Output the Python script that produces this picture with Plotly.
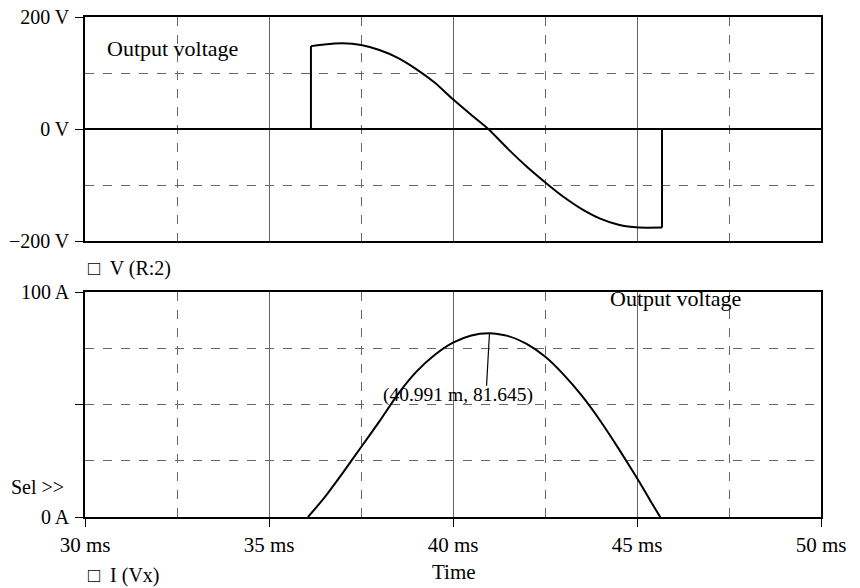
import plotly.graph_objects as go

# time axis (ms)
x_ticks = [30, 35, 40, 45, 50]
x_ticktext = ["30 ms", "35 ms", "40 ms", "45 ms", "50 ms"]
x_minor = [32.5, 37.5, 42.5, 47.5]

# output voltage V(R:2): switched on at 36.14 ms, off at 45.68 ms
v_time = [36.14, 36.5, 37.0, 37.5, 38.0, 38.5, 39.0, 39.5, 40.0, 40.5, 40.96,
          41.5, 42.0, 42.5, 43.0, 43.5, 44.0, 44.5, 45.05, 45.68]
v_volt = [148, 151, 153, 150, 141, 127, 107, 83, 53, 25, 0,
          -36, -67, -95, -121, -143, -160, -171, -176, -176]

# load current I(Vx)
i_time = [36.06, 36.5, 37.0, 37.5, 38.0, 38.5, 39.0, 39.5, 40.0, 40.5, 40.991,
          41.5, 42.0, 42.5, 43.0, 43.5, 44.0, 44.5, 45.0, 45.35, 45.63]
i_amp = [0, 8.5, 19.5, 31, 42.5, 54.5, 64.5, 72, 77.5, 80.7, 81.645,
         80.4, 76.9, 71.3, 63.4, 53.9, 42.8, 30.4, 17.3, 7.6, 0]

peak_t = 40.991
peak_i = 81.645

FONT = "Liberation Serif"
GRID = "#666666"

fig = go.Figure()
# voltage waveform (smooth part) plus its switching edges
fig.add_trace(go.Scatter(x=v_time, y=v_volt, mode="lines", xaxis="x2", yaxis="y",
                         line=dict(color="black", width=2, shape="spline", smoothing=0.6),
                         showlegend=False))
fig.add_trace(go.Scatter(x=[v_time[0], v_time[0], None, v_time[-1], v_time[-1]],
                         y=[0, v_volt[0], None, v_volt[-1], 0], mode="lines",
                         xaxis="x2", yaxis="y", line=dict(color="black", width=2),
                         showlegend=False))
fig.add_trace(go.Scatter(x=i_time, y=i_amp, mode="lines", xaxis="x", yaxis="y2",
                         line=dict(color="black", width=2, shape="spline", smoothing=0.6),
                         showlegend=False))

xcommon = dict(range=[30, 50], showline=True, mirror=True, linecolor="black", linewidth=1.5,
               showgrid=True, gridcolor=GRID, gridwidth=1, zeroline=False, automargin=False,
               ticklabeloverflow="allow",
               minor=dict(tickmode="array", tickvals=x_minor, showgrid=True,
                          gridcolor=GRID, griddash="dash", ticks=""))
ycommon = dict(automargin=False, ticklabeloverflow="allow", ticks="outside", ticklen=8,
               tickcolor="black", ticklabelstandoff=2, tickfont=dict(size=20),
               showline=True, mirror=True, linecolor="black", linewidth=1.5)

# page body adds an 8px margin, so the figure is drawn 8px smaller
fig.update_layout(
    width=852, height=580,
    margin=dict(l=77, r=39, t=9, b=71),
    plot_bgcolor="white", paper_bgcolor="white",
    font=dict(family=FONT, size=20, color="black"),
    xaxis=dict(**xcommon, anchor="y2", tickvals=x_ticks, ticktext=x_ticktext,
               ticks="outside", ticklen=8, tickcolor="black", tickfont=dict(size=21)),
    xaxis2=dict(**xcommon, anchor="y", matches="x", showticklabels=False, ticks=""),
    yaxis=dict(**ycommon, domain=[0.552, 1], anchor="x2", range=[-200, 200],
               tickvals=[-200, 0, 200], ticktext=["\u2212200 V", "0 V", "200 V"],
               showgrid=False, zeroline=True, zerolinecolor="black", zerolinewidth=1.5,
               minor=dict(tickmode="array", tickvals=[-100, 100], showgrid=True,
                          gridcolor=GRID, griddash="dash", ticks="")),
    yaxis2=dict(**ycommon, domain=[0, 0.45], anchor="x", range=[0, 100],
                tickvals=[0, 50, 100], ticktext=["0 A", "", "100 A"],
                showgrid=True, gridcolor=GRID, griddash="dash", zeroline=False,
                minor=dict(tickmode="array", tickvals=[25, 75], showgrid=True,
                           gridcolor=GRID, griddash="dash", ticks="")),
)

ann = [
    dict(text="Output voltage", xref="paper", yref="paper", x=0.027, y=0.938,
         xanchor="left", yanchor="middle", showarrow=False, font=dict(size=22)),
    dict(text="Output voltage", xref="paper", yref="paper", x=0.711, y=0.438,
         xanchor="left", yanchor="middle", showarrow=False, font=dict(size=22)),
    dict(text="\u25a1  V (R:2)", xref="paper", yref="paper", x=0.002, y=0.498,
         xanchor="left", yanchor="middle", showarrow=False),
    dict(text="\u25a1  I (Vx)", xref="paper", yref="paper", x=0.002, y=-0.116,
         xanchor="left", yanchor="middle", showarrow=False),
    dict(text="Sel >>", xref="paper", yref="paper", x=-0.026, y=0.06,
         xanchor="right", yanchor="middle", showarrow=False),
    dict(text="Time", xref="paper", yref="paper", x=0.501, y=-0.11,
         xanchor="center", yanchor="middle", showarrow=False, font=dict(size=21)),
    dict(text="", x=peak_t, y=peak_i, xref="x", yref="y2", showarrow=True,
         arrowhead=0, arrowwidth=1.2, arrowcolor="black", ax=-3, ay=54),
    dict(text="(40.991 m, 81.645)", x=40.14, y=54.2, xref="x", yref="y2",
         xanchor="center", yanchor="middle", showarrow=False, font=dict(size=19.5)),
]
fig.update_layout(annotations=ann)

fig.write_html("out.html")
